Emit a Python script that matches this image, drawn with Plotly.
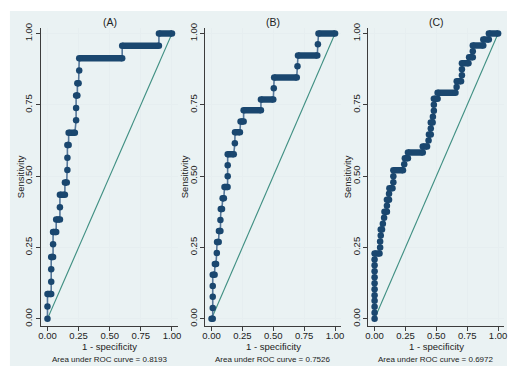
import plotly.graph_objects as go

# ---------------- data ----------------
titles = ["(A)", "(B)", "(C)"]
auc_notes = ["Area under ROC curve = 0.8193",
             "Area under ROC curve = 0.7526",
             "Area under ROC curve = 0.6972"]
tick_vals = [0, 0.25, 0.5, 0.75, 1.0]
tick_text = ["0.00", "0.25", "0.50", "0.75", "1.00"]
diag_x = [0, 1]
diag_y = [0, 1]

fpr_A = [0, 0, 0, 0.03, 0.03, 0.03, 0.03, 0.045, 0.045, 0.045, 0.07, 0.07, 0.1, 0.1,
         0.1, 0.14, 0.14, 0.155, 0.16, 0.16, 0.16, 0.17, 0.17, 0.22, 0.23, 0.23,
         0.23, 0.24, 0.24, 0.25, 0.255, 0.255, 0.6, 0.6, 0.895, 0.895, 1.0]
tpr_A = [0, 0.043, 0.087, 0.087, 0.130, 0.174, 0.217, 0.217, 0.261, 0.304, 0.304, 0.348, 0.348, 0.391,
         0.435, 0.435, 0.478, 0.478, 0.522, 0.565, 0.609, 0.609, 0.652, 0.652, 0.696, 0.739,
         0.783, 0.783, 0.826, 0.826, 0.870, 0.913, 0.913, 0.957, 0.957, 1.0, 1.0]

fpr_B = [0, 0.01, 0.01, 0.01, 0.01, 0.01, 0.025, 0.027, 0.037, 0.043, 0.045, 0.058, 0.06, 0.072,
         0.072, 0.075, 0.085, 0.09, 0.1, 0.105, 0.13, 0.131, 0.131, 0.131, 0.18, 0.189,
         0.19, 0.23, 0.235, 0.26, 0.26, 0.4, 0.4, 0.5, 0.504, 0.507, 0.69, 0.696,
         0.7, 0.856, 0.861, 0.866, 1.0]
tpr_B = [0, 0, 0.038, 0.077, 0.115, 0.154, 0.154, 0.192, 0.192, 0.231, 0.269, 0.269, 0.308, 0.308,
         0.346, 0.385, 0.385, 0.423, 0.423, 0.462, 0.462, 0.5, 0.538, 0.577, 0.577, 0.615,
         0.654, 0.654, 0.692, 0.692, 0.731, 0.731, 0.769, 0.769, 0.808, 0.846, 0.846, 0.885,
         0.923, 0.923, 0.962, 1.0, 1.0]

fpr_C = [0, 0, 0, 0, 0, 0, 0, 0, 0, 0, 0, 0, 0.04, 0.045, 0.045, 0.05, 0.05, 0.06, 0.067,
         0.077, 0.08, 0.1, 0.1, 0.1, 0.117, 0.117, 0.12, 0.145, 0.152, 0.152, 0.152, 0.23,
         0.24, 0.245, 0.27, 0.27, 0.39, 0.39, 0.425, 0.437, 0.44, 0.455, 0.455, 0.455, 0.47,
         0.472, 0.48, 0.48, 0.48, 0.51, 0.51, 0.655, 0.664, 0.665, 0.7, 0.707, 0.707, 0.707,
         0.76, 0.765, 0.795, 0.795, 0.795, 0.88, 0.88, 0.925, 0.925, 1.0]
tpr_C = [0, 0.021, 0.042, 0.063, 0.083, 0.104, 0.125, 0.146, 0.167, 0.188, 0.208, 0.229, 0.229,
         0.25, 0.271, 0.292, 0.313, 0.313, 0.333, 0.354, 0.375, 0.375, 0.396, 0.417, 0.417,
         0.438, 0.458, 0.458, 0.479, 0.5, 0.521, 0.521, 0.542, 0.563, 0.563, 0.583, 0.583,
         0.604, 0.604, 0.625, 0.646, 0.646, 0.667, 0.688, 0.688, 0.708, 0.729, 0.75, 0.771,
         0.771, 0.792, 0.792, 0.813, 0.833, 0.833, 0.854, 0.875, 0.896, 0.896, 0.917, 0.917,
         0.938, 0.958, 0.958, 0.979, 0.979, 1.0, 1.0]

panels = [(fpr_A, tpr_A), (fpr_B, tpr_B), (fpr_C, tpr_C)]

# ---------------- layout constants ----------------
W, H = 510, 368
NAVY = "#1a476f"
LINE = "#55779a"
TEAL = "#3f8f82"
BG = "#eaf2f3"
GRID = "#e6eef0"
FONT = "Liberation Sans, Arial, sans-serif"

x0_px = [45, 211, 376]
x1_px = [171, 336, 501]
y0_px, y1_px = 319, 29
top_px, bot_px = 23, 326
XPAD = 0.05

def px(xp):
    return xp / W

def py(yp):
    return 1 - yp / H

fig = go.Figure()

for i, (fx, fy) in enumerate(panels):
    n = "" if i == 0 else str(i + 1)
    xa, ya = "x" + n, "y" + n
    fig.add_trace(go.Scatter(x=diag_x, y=diag_y, mode="lines", xaxis=xa, yaxis=ya,
                             line=dict(color=TEAL, width=1.1), hoverinfo="skip", showlegend=False))
    fig.add_trace(go.Scatter(x=fx, y=fy, mode="lines", xaxis=xa, yaxis=ya,
                             line=dict(color=LINE, width=1.6), hoverinfo="skip", showlegend=False))
    sx, sy = [], []
    for k in range(len(fx) - 1):
        if fy[k] == fy[k + 1] and fx[k + 1] > fx[k]:
            sx += [fx[k], fx[k + 1], None]
            sy += [fy[k], fy[k + 1], None]
    fig.add_trace(go.Scatter(x=sx, y=sy, mode="lines", xaxis=xa, yaxis=ya,
                             line=dict(color=NAVY, width=6.5), hoverinfo="skip", showlegend=False))
    fig.add_trace(go.Scatter(x=fx, y=fy, mode="markers", xaxis=xa, yaxis=ya,
                             marker=dict(color=NAVY, size=6.5, line=dict(width=0)),
                             hoverinfo="skip", showlegend=False))

    ppu = x1_px[i] - x0_px[i]
    dom_x = [px(x0_px[i] - XPAD * ppu), px(x1_px[i] + XPAD * ppu)]
    yppu = y0_px - y1_px
    yr = [-(bot_px - y0_px) / yppu, 1 + (y1_px - top_px) / yppu]
    axis_common = dict(showline=True, linecolor="#3c3c3c", linewidth=1, ticks="outside",
                       ticklen=4, tickcolor="#3c3c3c", tickwidth=1,
                       tickvals=tick_vals, ticktext=tick_text,
                       showgrid=True, gridcolor=GRID, gridwidth=1, zeroline=False,
                       tickfont=dict(family=FONT, size=9.5, color="#222"))
    fig.layout["xaxis" + n] = dict(domain=dom_x, range=[-XPAD, 1 + XPAD], anchor=ya,
                                   ticklabelstandoff=-3, **axis_common)
    fig.layout["yaxis" + n] = dict(domain=[py(bot_px), py(top_px)], range=yr, anchor=xa,
                                   tickangle=-90, **axis_common)

    cx = (x0_px[i] + x1_px[i]) / 2
    axis_left = x0_px[i] - XPAD * ppu
    fig.add_annotation(x=px(cx), y=py(17), xref="paper", yref="paper", text=titles[i],
                       showarrow=False, font=dict(family=FONT, size=10.5, color="#222"),
                       xanchor="center", yanchor="middle")
    fig.add_annotation(x=px(cx), y=py(347.5), xref="paper", yref="paper", text="1 - specificity",
                       showarrow=False, font=dict(family=FONT, size=9.5, color="#222"),
                       xanchor="center", yanchor="middle")
    fig.add_annotation(x=px(cx), y=py(360), xref="paper", yref="paper", text=auc_notes[i],
                       showarrow=False, font=dict(family=FONT, size=8, color="#222"),
                       xanchor="center", yanchor="middle")
    fig.add_annotation(x=px(axis_left - 21), y=py((top_px + bot_px) / 2), xref="paper", yref="paper",
                       text="Sensitivity", textangle=-90, showarrow=False,
                       font=dict(family=FONT, size=9.5, color="#222"),
                       xanchor="center", yanchor="middle")

fig.add_shape(type="rect", xref="paper", yref="paper", x0=px(7), x1=px(510), y0=py(367), y1=py(6),
              fillcolor=BG, line=dict(width=0), layer="below")

fig.update_layout(width=W, height=H, margin=dict(l=0, r=0, t=0, b=0),
                  paper_bgcolor="white", plot_bgcolor="white", showlegend=False,
                  font=dict(family=FONT))

fig.write_html("out.html", config={"displayModeBar": False},
               post_script="document.body.style.margin='0';document.body.style.overflow='hidden';")
